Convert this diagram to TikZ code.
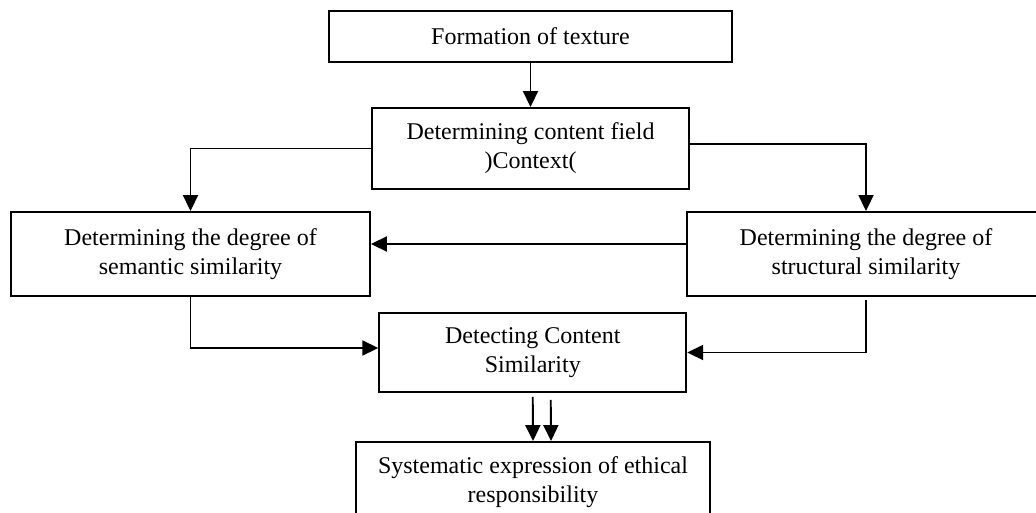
\documentclass[tikz,border=0pt]{standalone}
\usepackage{fontspec}
\setmainfont{Liberation Serif}
\usetikzlibrary{arrows.meta,positioning,calc}

\begin{document}
\begin{tikzpicture}[x=1pt,y=-1pt,
		stepbox/.style={draw, line width=1.9pt, align=center, inner sep=0pt,
			font=\fontsize{24}{29}\selectfont},
		link/.style={line width=1.9pt, -{Triangle[length=16pt,width=15pt]}}]
			\useasboundingbox (0,0) rectangle (1036,512);
			
			% Top of the chain
			\node[stepbox, line width=2.3pt, minimum width=403pt, minimum height=51pt] (texture) at (530.5,36.5) {Formation of texture};
			\node[stepbox, minimum width=317pt, minimum height=81pt] (context) at (530.5,148.5) {Determining content field\\)Context(};
			
			% The two degrees of similarity
			\node[stepbox, minimum width=359pt, minimum height=84pt] (semantic) at (190.5,254) {Determining the degree of\\semantic similarity};
			\node[stepbox, minimum width=358pt, minimum height=84pt] (structural) at (866,254) {Determining the degree of\\structural similarity};
			
			% Detection and result
			\node[stepbox, minimum width=307pt, minimum height=79pt] (detect) at (532.75,352.5) {Detecting Content\\Similarity};
			\node[stepbox, minimum width=354pt, minimum height=80pt] (ethics) at (533,482) {Systematic expression of ethical\\responsibility};
			
			% Connectors
			\draw[link] (texture) -- (context);
			\draw[link] (context.west) -| (semantic.north);
			\draw[link] ([yshift=4.5pt]context.east) -| (structural.north);
			\draw[link] ([yshift=10pt]structural.west) -- ([yshift=10pt]semantic.east);
			\draw[link] (semantic.south) |- ([yshift=4.5pt]detect.west);
			\draw[link] ([yshift=-3pt]structural.south) |- (detect.east);
			
			% Double arrow down
			\draw[link] ([yshift=-4pt]detect.south) -- (ethics.north);
			\draw[link] ([xshift=18pt,yshift=-7pt]detect.south) -- ([xshift=18pt]ethics.north);
		\end{tikzpicture}
\end{document}
